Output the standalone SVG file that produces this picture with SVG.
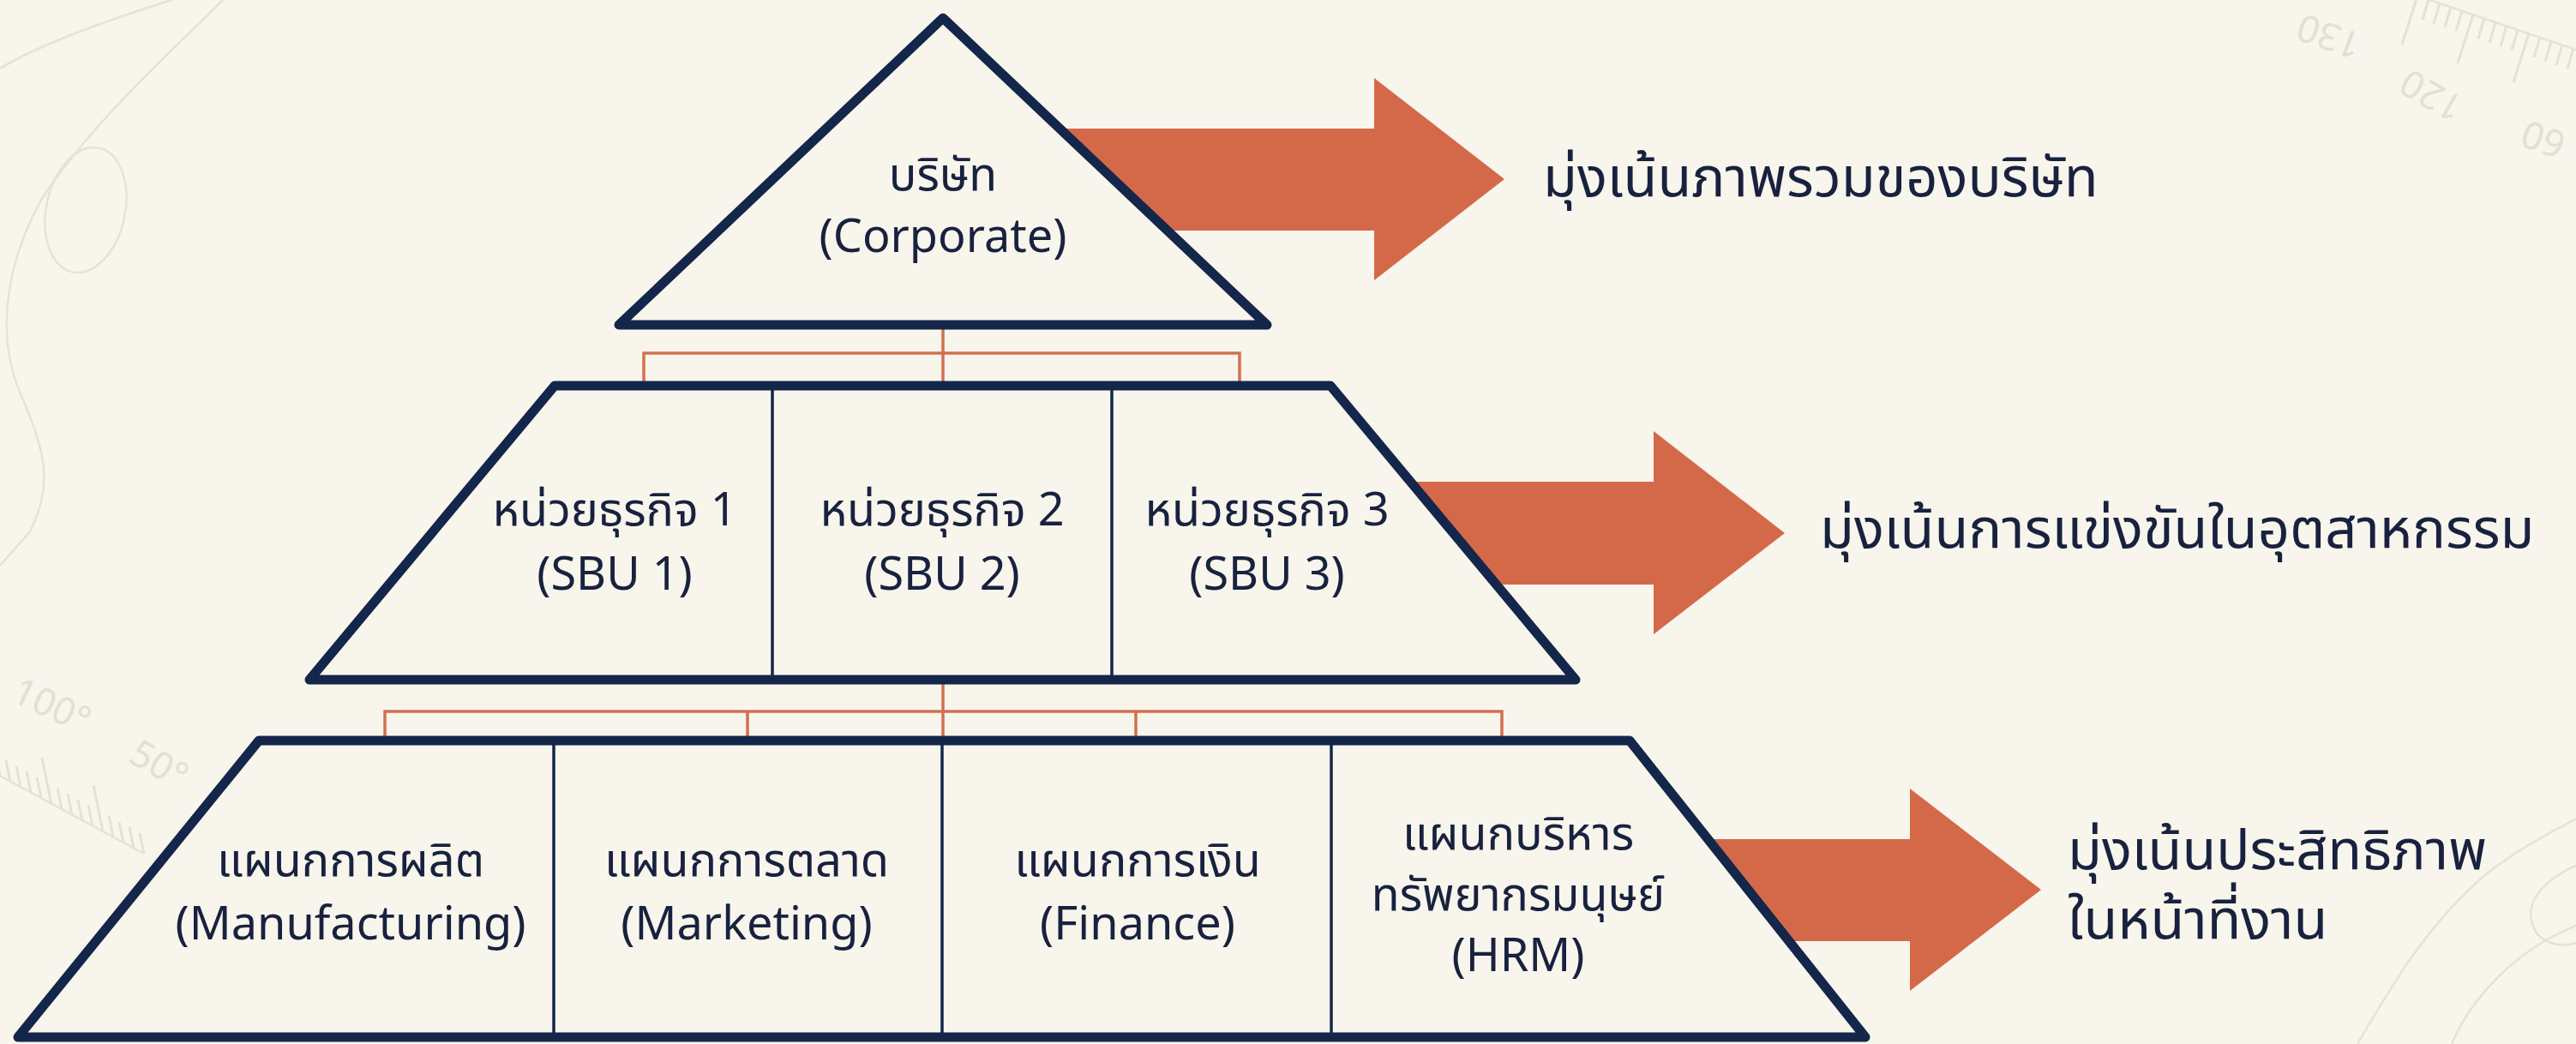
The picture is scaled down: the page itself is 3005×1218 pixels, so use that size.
<svg xmlns="http://www.w3.org/2000/svg" width="3005" height="1218" viewBox="0 0 3005 1218">
<style>
.bg{fill:#F8F5EC}
.topo{fill:none;stroke:#E7E2D6;stroke-width:2.5}
.tick{stroke:#E6E1D5;stroke-width:3}
.deco{font-family:'Noto Sans',sans-serif;fill:#E4DFD3;font-size:44px}
.shape{fill:#F8F5EC;stroke:#14264A;stroke-width:11;stroke-linejoin:round}
.div{stroke:#14264A;stroke-width:3.5}
.conn{fill:none;stroke:#D2704F;stroke-width:3.5}
.arrow{fill:#D4694A}
.t{font-family:'Noto Sans','Noto Sans Thai','Noto Sans Thai UI',sans-serif;fill:#18223F;text-anchor:middle;font-size:54px}
.lbl{font-family:'Noto Sans','Noto Sans Thai','Noto Sans Thai UI',sans-serif;fill:#18223F;font-size:65px}
</style>
<rect class="bg" x="0" y="0" width="3005" height="1218"/>
<g id="background">
<path class="topo" d="M0 80 C40 55 120 25 200 0"/>
<path class="topo" d="M260 0 C200 60 110 140 50 230 C10 300 -5 380 20 450 C50 520 65 560 35 620 L0 660"/>
<ellipse class="topo" cx="100" cy="245" rx="46" ry="74" transform="rotate(12 100 245)"/>
<path class="topo" d="M2750 1218 C2790 1150 2830 1080 2900 1020 C2950 980 3000 960 3005 955"/>
<path class="topo" d="M2860 1218 C2880 1170 2930 1110 3005 1080"/>
<path class="topo" d="M3005 1010 C2960 1030 2940 1060 2960 1090 C2980 1110 3005 1100 3005 1100"/>
<path class="topo" d="M2820 -5 L3005 58"/>
<path class="tick" d="M2820 -5 L2802 52 M2833 -1 L2826 23 M2846 4 L2839 28 M2859 8 L2852 32 M2872 13 L2865 36 M2885 17 L2867 74 M2898 21 L2891 45 M2911 26 L2904 50 M2924 30 L2917 54 M2937 35 L2930 58 M2950 39 L2932 96 M2963 43 L2956 67 M2976 48 L2969 72 M2989 52 L2982 76 M3002 57 L2995 80"/>
<path class="topo" d="M0 905 L168 996"/>
<path class="tick" d="M0 905 L-11 851 M12 912 L7 887 M24 918 L19 894 M36 925 L31 900 M48 931 L43 907 M60 938 L49 884 M72 944 L67 920 M84 951 L79 926 M96 957 L91 933 M108 964 L103 939 M120 970 L109 916 M132 977 L127 952 M144 983 L139 959 M156 990 L151 965 M168 996 L163 972"/>
<text class="deco" transform="translate(54 837) rotate(25)" text-anchor="middle">100°</text>
<text class="deco" transform="translate(178 905) rotate(30)" text-anchor="middle">50°</text>
<text class="deco" transform="translate(2722 28) rotate(200)" text-anchor="middle">130</text>
<text class="deco" transform="translate(2844 98) rotate(210)" text-anchor="middle">120</text>
<text class="deco" transform="translate(2972 148) rotate(200)" text-anchor="middle">60</text>
</g>
<g id="arrows">
<polygon class="arrow" points="1230,150 1603,150 1603,91 1755,209 1603,327 1603,269 1230,269"/>
<polygon class="arrow" points="1600,562 1929,562 1929,503 2082,622 1929,740 1929,682 1600,682"/>
<polygon class="arrow" points="1950,979 2228,979 2228,920 2381,1038 2228,1156 2228,1098 1950,1098"/>
</g>
<g id="connectors">
<path class="conn" d="M1100 384 V450 M751 450 V412 H1446 V450"/>
<path class="conn" d="M1100 798 V864 M449 864 V830 H1752 V864 M872 830 V864 M1325 830 V864"/>
</g>
<g id="corporate">
<polygon class="shape" points="1100,21 722,379 1478,379"/>
<text class="t" font-size="57"><tspan x="1100" y="222">บริษัท</tspan><tspan x="1100" y="294">(Corporate)</tspan></text>
</g>
<g id="sbu-tier">
<polygon class="shape" points="647,450 1552,450 1838,793 361,793"/>
<line class="div" x1="901" y1="450" x2="901" y2="793"/>
<line class="div" x1="1297" y1="450" x2="1297" y2="793"/>
</g>
<g id="sbu1"><text class="t"><tspan x="717" y="613">หน่วยธุรกิจ 1</tspan><tspan x="717" y="688">(SBU 1)</tspan></text></g>
<g id="sbu2"><text class="t"><tspan x="1099" y="613">หน่วยธุรกิจ 2</tspan><tspan x="1099" y="688">(SBU 2)</tspan></text></g>
<g id="sbu3"><text class="t"><tspan x="1478" y="613">หน่วยธุรกิจ 3</tspan><tspan x="1478" y="688">(SBU 3)</tspan></text></g>
<g id="functional-tier">
<polygon class="shape" points="302,864 1901,864 2176,1210 21,1210"/>
<line class="div" x1="646" y1="864" x2="646" y2="1210"/>
<line class="div" x1="1099" y1="864" x2="1099" y2="1210"/>
<line class="div" x1="1553" y1="864" x2="1553" y2="1210"/>
</g>
<g id="manufacturing"><text class="t"><tspan x="409" y="1022">แผนกการผลิต</tspan><tspan x="409" y="1096">(Manufacturing)</tspan></text></g>
<g id="marketing"><text class="t"><tspan x="871" y="1022">แผนกการตลาด</tspan><tspan x="871" y="1096">(Marketing)</tspan></text></g>
<g id="finance"><text class="t"><tspan x="1327" y="1022">แผนกการเงิน</tspan><tspan x="1327" y="1096">(Finance)</tspan></text></g>
<g id="hrm"><text class="t"><tspan x="1771" y="991">แผนกบริหาร</tspan><tspan x="1771" y="1062">ทรัพยากรมนุษย์</tspan><tspan x="1771" y="1133">(HRM)</tspan></text></g>
<g id="focus-labels">
<text class="lbl" x="1800" y="229">มุ่งเน้นภาพรวมของบริษัท</text>
<text class="lbl" x="2123" y="639">มุ่งเน้นการแข่งขันในอุตสาหกรรม</text>
<text class="lbl" font-size="63"><tspan x="2412" y="1014">มุ่งเน้นประสิทธิภาพ</tspan><tspan x="2412" y="1095">ในหน้าที่งาน</tspan></text>
</g>
</svg>
